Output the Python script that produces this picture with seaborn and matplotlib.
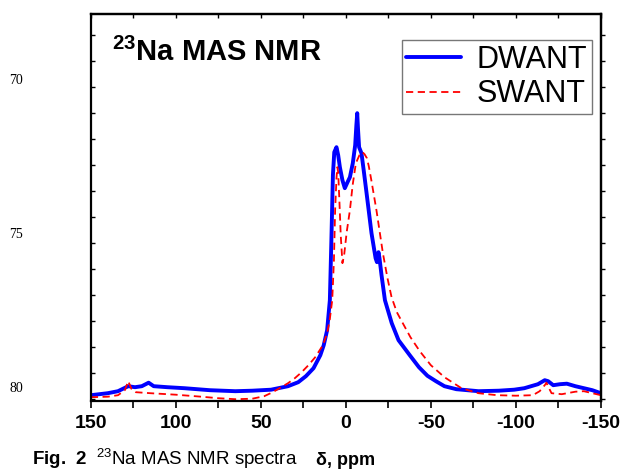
import numpy as np
import pandas as pd
import matplotlib
matplotlib.use("Agg")
import matplotlib.pyplot as plt
import seaborn as sns

sns.set_style("ticks")
plt.rcParams['font.family'] = ['Liberation Sans', 'DejaVu Sans']
plt.rcParams['mathtext.fontset'] = 'custom'
plt.rcParams['mathtext.rm'] = 'Liberation Sans'
plt.rcParams['mathtext.bf'] = 'Liberation Sans:bold'
for k in ['text.color', 'axes.labelcolor', 'xtick.color', 'ytick.color', 'axes.edgecolor']:
    plt.rcParams[k] = 'black'

# chemical shift (ppm) and intensity (arbitrary units)
dwant_ppm = [150, 140, 134, 128, 124, 120, 116, 113, 105, 95, 80, 65, 55, 44, 34, 28,
             23.5, 19, 15, 13, 11, 9.4, 8.5, 7.6, 6.8, 5.5, 4.5, 3.5, 2, 0.6, -1, -2.4,
             -4.1, -5.5, -6.2, -6.7, -7.2, -7.8, -9.2, -10.5, -12.2, -15.1, -17.5,
             -18.3, -19.2, -19.8, -21, -23, -27, -31, -37.6, -43, -48, -53, -58, -65,
             -78, -90, -99, -105, -109, -113, -117, -119, -122, -126, -130, -135,
             -140, -145, -150]
dwant_int = [6, 8, 10, 15, 14, 15, 18.5, 15, 14, 13, 11, 10, 10.5, 11.5, 15, 19,
             25, 33, 46, 56, 71, 101, 161, 226, 249, 254, 246, 234, 221, 213, 219, 224,
             238, 256, 276, 288, 271, 254, 248, 231, 208, 168, 143,
             139, 149, 143, 126, 101, 78, 61, 46, 34, 25.4, 20, 15, 12,
             10, 10.5, 11.5, 13, 15, 17, 21, 20, 16, 17, 17.5, 15,
             13, 11, 8]

swant_ppm = [150, 140, 134, 130, 128, 126, 123.5, 115, 100, 85, 75, 65, 55, 48, 43, 38,
             34, 30, 26, 22, 18, 13.5, 11, 9.5, 8, 7, 6.3, 5.5, 5, 4.5, 3.8, 3, 2, 1,
             -0.5, -2.4, -4, -5.9, -8, -9.8, -11, -12.4, -13.5, -15, -18, -21.8, -24.5,
             -26.9, -30, -33.5, -38, -43.5, -50, -58, -68, -78, -89, -100, -110, -114,
             -117, -118, -119.5, -121, -127, -135, -140, -145, -150]
swant_int = [4, 4.5, 6, 11, 20, 12, 9, 8, 6.5, 4.5, 3, 2, 2.5, 5, 9, 14,
             18, 23, 29, 36, 44, 56, 68, 81, 101, 141, 191, 223, 234, 229, 201, 166, 138, 146,
             169, 191, 216, 238, 246, 249, 247, 243, 235, 221, 191, 148, 123,
             104, 89, 78, 64, 50, 36, 24, 13, 8, 6, 5.5, 6, 10,
             16, 18.5, 13, 8, 7, 9.5, 10, 8, 6]

df_d = pd.DataFrame({"ppm": dwant_ppm, "intensity": dwant_int})
df_s = pd.DataFrame({"ppm": swant_ppm, "intensity": swant_int})

fig = plt.figure(figsize=(6.22, 4.72), dpi=100)
ax = fig.add_axes([0.146, 0.150, 0.820, 0.820])

sns.lineplot(data=df_d, x="ppm", y="intensity", ax=ax, color="#0000ff", lw=2.8,
             label="DWANT", sort=False)
sns.lineplot(data=df_s, x="ppm", y="intensity", ax=ax, color="#ff0000", lw=1.3,
             label="SWANT", sort=False, dashes=False, linestyle=(0, (4, 2.5)))

ax.set_xlim(150, -150)
ax.set_ylim(0, 387)
ax.set_xticks([150, 100, 50, 0, -50, -100, -150])
ax.set_xticks([125, 75, 25, -25, -75, -125], minor=True)
ax.set_xticklabels(["150", "100", "50", "0", "-50", "-100", "-150"],
                   fontsize=14, fontweight="bold")
ax.set_yticks(np.arange(2, 387, 26))
ax.set_yticklabels([])
ax.tick_params(axis="x", which="both", direction="out", length=5, width=1.2, pad=5)
ax.tick_params(axis="y", which="both", direction="in", length=3, width=1)
ax.set_xlabel("δ, ppm", fontsize=13, fontweight="bold", labelpad=14)
ax.set_ylabel("")
for s in ax.spines.values():
    s.set_linewidth(1.6)

# top and right ticks
top = ax.secondary_xaxis("top")
top.set_xticks([150, 125, 100, 75, 50, 25, 0, -25, -50, -75, -100, -125, -150])
top.set_xticklabels([])
top.tick_params(direction="in", length=3, width=1)
top.spines["top"].set_linewidth(1.6)
right = ax.secondary_yaxis("right")
right.set_yticks(np.arange(2, 387, 26))
right.set_yticklabels([])
right.tick_params(direction="out", length=3, width=1)
right.spines["right"].set_linewidth(1.6)

ax.text(0.041, 0.90, r"$^{\mathbf{23}}$Na MAS NMR", transform=ax.transAxes,
        fontsize=21, fontweight="bold", ha="left", va="center")

leg = ax.legend(loc="upper right", bbox_to_anchor=(0.982, 0.933), borderaxespad=0,
                fontsize=22, handlelength=1.8, handletextpad=0.5, labelspacing=0.15,
                borderpad=0.15, fancybox=False, frameon=True)
leg.get_frame().set_edgecolor("#555555")
leg.get_frame().set_linewidth(1.0)

# page line numbers and caption from the source document
for yy, t in [(80, "70"), (235, "75"), (388, "80")]:
    fig.text(16 / 622, 1 - yy / 472, t, family="Liberation Serif", fontsize=10,
             ha="center", va="center")
fig.text(32 / 622, 0.002, r"$\mathbf{Fig.\ 2}$  $^{23}$Na MAS NMR spectra",
         fontsize=13.5, ha="left", va="bottom")

fig.savefig("out.png", dpi=100)
